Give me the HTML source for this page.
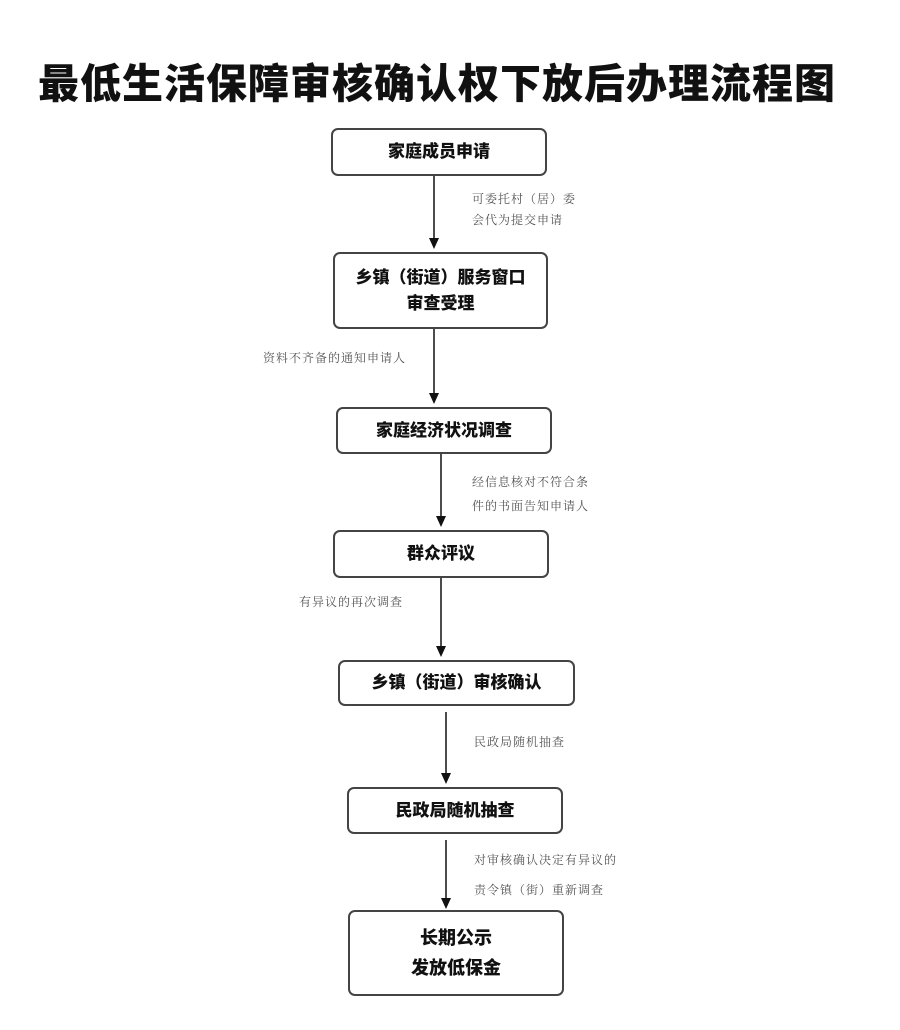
<!DOCTYPE html>
<html><head><meta charset="utf-8"><style>
body{margin:0;width:900px;height:1030px;background:#fff;position:relative;overflow:hidden;font-family:"Liberation Sans","Noto Sans CJK SC",sans-serif;}
.t{position:absolute;left:38px;top:50px;font-size:41px;font-weight:900;letter-spacing:1px;white-space:nowrap;color:#111;}
.b{position:absolute;border:2px solid #444;border-radius:7px;box-sizing:border-box;display:flex;align-items:center;justify-content:center;text-align:center;font-weight:900;font-size:17px;line-height:26px;color:#111;}
.l{position:absolute;font-family:"Liberation Serif","Noto Serif CJK SC",serif;font-size:12px;color:#555;white-space:nowrap;letter-spacing:1px;}
</style></head><body>
<div class="t">最低生活保障审核确认权下放后办理流程图</div>
<div class="b" style="left:331px;top:128px;width:216px;height:48px">家庭成员申请</div>
<div class="b" style="left:333px;top:252px;width:215px;height:77px">乡镇（街道）服务窗口<br>审查受理</div>
<div class="b" style="left:336px;top:407px;width:216px;height:47px">家庭经济状况调查</div>
<div class="b" style="left:333px;top:530px;width:216px;height:48px">群众评议</div>
<div class="b" style="left:338px;top:660px;width:237px;height:46px">乡镇（街道）审核确认</div>
<div class="b" style="left:347px;top:787px;width:216px;height:47px">民政局随机抽查</div>
<div class="b" style="left:348px;top:910px;width:216px;height:86px;font-size:18px;line-height:30px">长期公示<br>发放低保金</div>
<svg width="900" height="1030" style="position:absolute;left:0;top:0">
<g stroke="#111" stroke-width="1.5">
<line x1="434" y1="176" x2="434" y2="240"/><line x1="434" y1="329" x2="434" y2="395"/>
<line x1="441" y1="454" x2="441" y2="518"/><line x1="441" y1="578" x2="441" y2="648"/>
<line x1="446" y1="712" x2="446" y2="775"/><line x1="446" y1="840" x2="446" y2="900"/>
</g>
<g fill="#111">
<polygon points="429,238 439,238 434,249"/><polygon points="429,393 439,393 434,404"/>
<polygon points="436,516 446,516 441,527"/><polygon points="436,646 446,646 441,657"/>
<polygon points="441,773 451,773 446,784"/><polygon points="441,898 451,898 446,909"/>
</g></svg>
<div class="l" style="left:472px;top:190px">可委托村（居）委</div>
<div class="l" style="left:472px;top:211px">会代为提交申请</div>
<div class="l" style="left:263px;top:349px">资料不齐备的通知申请人</div>
<div class="l" style="left:472px;top:473px">经信息核对不符合条</div>
<div class="l" style="left:472px;top:497px">件的书面告知申请人</div>
<div class="l" style="left:299px;top:593px">有异议的再次调查</div>
<div class="l" style="left:474px;top:733px">民政局随机抽查</div>
<div class="l" style="left:474px;top:851px">对审核确认决定有异议的</div>
<div class="l" style="left:474px;top:881px">责令镇（街）重新调查</div>
</body></html>
